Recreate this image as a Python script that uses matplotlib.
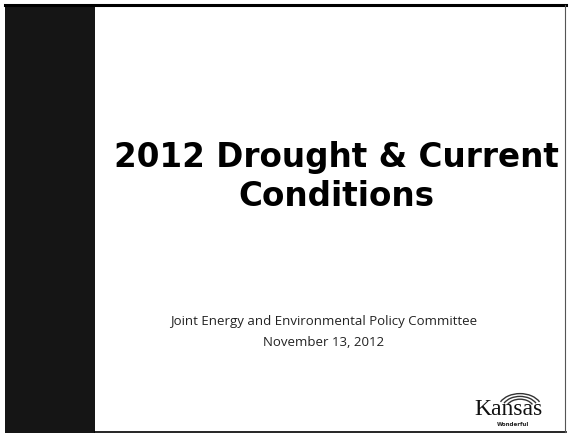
import numpy as np
import matplotlib.pyplot as plt
from matplotlib.patches import Rectangle, Arc

# slide text
title_lines = ["2012 Drought & Current", "Conditions"]
subtitle_lines = ["Joint Energy and Environmental Policy Committee", "November 13, 2012"]
logo_word = "Kansas"
logo_tag = "Wonderful"

W, H = 569, 435
fig = plt.figure(figsize=(W / 100, H / 100), dpi=100)
ax = fig.add_axes([0, 0, 1, 1])
ax.set_xlim(0, W)
ax.set_ylim(H, 0)
ax.axis('off')

# dark left band
ax.add_patch(Rectangle((5, 7), 90, 427, facecolor='#151515', edgecolor='none'))

# slide frame
ax.plot([5, 566], [6, 6], color='black', lw=2.2)
ax.plot([95, 566], [433, 433], color='black', lw=1.2)
ax.plot([565, 565], [6, 433], color='#555555', lw=0.8)

# title
ax.text(336, 158, title_lines[0], ha='center', va='center', fontsize=23.5,
        fontweight='heavy', family='DejaVu Sans', color='black')
ax.text(336, 197, title_lines[1], ha='center', va='center', fontsize=23.5,
        fontweight='heavy', family='DejaVu Sans', color='black')

# subtitle
ax.text(324, 322, subtitle_lines[0], ha='center', va='center', fontsize=9.5,
        family='Open Sans', color='#222222')
ax.text(324, 343, subtitle_lines[1], ha='center', va='center', fontsize=9.5,
        family='Open Sans', color='#222222')

# logo
for r in [22, 18, 14]:
    ax.add_patch(Arc((520, 410), 2 * r, 1.4 * r, theta1=200, theta2=340,
                     color='#333333', lw=1.0))
ax.text(508, 410, logo_word, ha='center', va='center', fontsize=17,
        family='Liberation Serif', color='#111111')
ax.text(513, 425, logo_tag, ha='center', va='center', fontsize=4,
        fontweight='bold', family='DejaVu Sans', color='#222222')

fig.savefig('out.png', dpi=100)
